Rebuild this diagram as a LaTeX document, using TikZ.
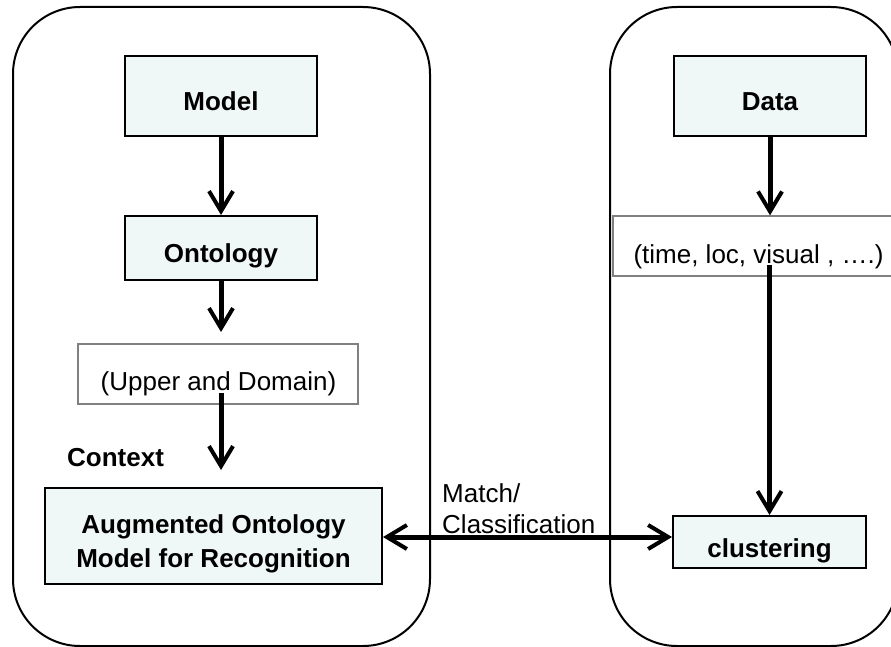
\documentclass[tikz,border=0pt]{standalone}
\usepackage{fontspec}
\setmainfont{Liberation Sans}
\usetikzlibrary{arrows.meta,calc}
\definecolor{boxfill}{RGB}{240,248,247}
\definecolor{thinedge}{RGB}{128,128,128}
\tikzset{
  container/.style={draw=black,line width=2pt,rounded corners=67pt},
  keybox/.style={draw=black,line width=2pt,fill=boxfill,inner sep=0pt},
  notebox/.style={draw=thinedge,line width=1.3pt,fill=white,inner sep=0pt},
  boldlabel/.style={font=\fontsize{26}{33}\selectfont\bfseries,inner sep=0pt},
  plainlabel/.style={font=\fontsize{26}{33}\selectfont,inner sep=0pt},
  vee/.tip={Straight Barb[length=20pt,width=24pt,line width=4pt]},
  flow/.style={line width=5pt,-vee},
  twoway/.style={line width=5pt,vee-vee}
}
\begin{document}
\begin{tikzpicture}[x=1pt,y=-1pt]
\useasboundingbox (0,0) rectangle (891,647);

% the two rounded panels
\draw[container] (13,7) rectangle (430,646);
\draw[container] (610,7) rectangle (898,646);

% left panel: model side
\node[keybox,minimum width=192pt,minimum height=80pt] (model) at (221,96) {};
\node[boldlabel,anchor=base] (modeltxt) at (221,111) {Model};

\node[keybox,minimum width=192pt,minimum height=64pt] (onto) at (221,248) {};
\node[boldlabel,anchor=base] (ontotxt) at (221,262) {Ontology};

\node[notebox,minimum width=280pt,minimum height=60pt] (upper) at (218,374) {};
\node[plainlabel,anchor=base] (uppertxt) at (218.5,390) {(Upper and Domain)};

\node[boldlabel,anchor=base west] (context) at (67,466) {Context};

\node[keybox,minimum width=337pt,minimum height=96pt] (aug) at (213.5,536) {};
\node[boldlabel,anchor=base] (augone) at (213.5,533) {Augmented Ontology};
\node[boldlabel,anchor=base] (augtwo) at (213.5,567) {Model for Recognition};

% right panel: data side
\node[keybox,minimum width=192pt,minimum height=80pt] (data) at (770,96) {};
\node[boldlabel,anchor=base] (datatxt) at (770,111) {Data};

\node[notebox,minimum width=290pt,minimum height=60pt] (tuple) at (758,246) {};
\node[plainlabel,anchor=base] (tupletxt) at (758.5,263) {(time, loc, visual , ….)};

\node[keybox,minimum width=193pt,minimum height=52pt] (clust) at (769.5,542) {};
\node[boldlabel,anchor=base] (clusttxt) at (769.5,557) {clustering};

% label between the panels
\node[plainlabel,anchor=base west] (matchone) at (442,502) {Match/};
\node[plainlabel,anchor=base west] (matchtwo) at (442,533) {Classification};

% connectors (the left column runs straight down from the model box)
\coordinate (ontoend) at ($(onto.south)+(0,51)$);
\coordinate (ctxstart) at (onto.south |- {(0,393)});
\coordinate (ctxend) at (onto.south |- {(0,470)});
\draw[flow] (model.south) -- (onto.north);
\draw[flow] (onto.south) -- (ontoend);
\draw[flow] (ctxstart) -- (ctxend);
\draw[flow] (data.south) -- (tuple.north -| data.south);
\draw[flow] ($(tuple.south -| clust.north)+(0,-12)$) -- (clust.north);
\draw[twoway] ($(aug.east)+(0,1)$) -- ($(aug.east -| clust.west)+(0,1)$);
\end{tikzpicture}
\end{document}
